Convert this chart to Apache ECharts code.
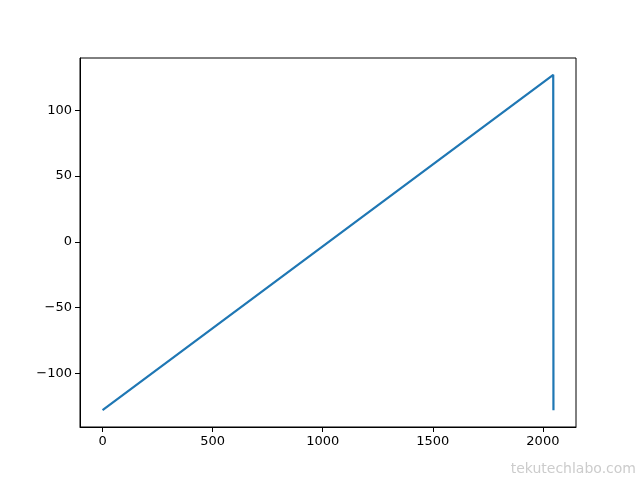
<!DOCTYPE html>
<html>
<head>
<meta charset="utf-8">
<script src="https://cdn.jsdelivr.net/npm/echarts@6/dist/echarts.min.js"></script>
<style>
  html, body { margin: 0; padding: 0; background: #fff; }
  #main { width: 640px; height: 480px; }
</style>
</head>
<body>
<div id="main"></div>
<script>
// sawtooth: rises from -128 to 127, then drops back
var sampleX = [0, 2047, 2048];
var sampleY = [-128, 127, -128];
var xTicks = [0, 500, 1000, 1500, 2000];
var yTicks = [-100, -50, 0, 50, 100];

var points = sampleX.map(function (x, i) { return [x, sampleY[i]]; });

function minusSign(v) {
    return String(v).replace('-', '\u2212');
}

var chart = echarts.init(document.getElementById('main'));
chart.setOption({
    animation: false,
    backgroundColor: '#fff',
    grid: {
        left: 80, right: 64, top: 58, bottom: 53,
        show: true, borderColor: '#000', borderWidth: 1, backgroundColor: 'transparent'
    },
    xAxis: {
        type: 'value',
        min: -102.4, max: 2150.4,
        axisLine: { show: true, onZero: false, lineStyle: { color: '#000', width: 1 } },
        splitLine: { show: false },
        axisTick: { show: true, inside: false, length: 5, lineStyle: { color: '#000' }, customValues: xTicks },
        axisLabel: {
            customValues: xTicks, margin: 8, color: '#000',
            fontFamily: 'DejaVu Sans', fontSize: 13, formatter: minusSign
        }
    },
    yAxis: {
        type: 'value',
        min: -140.75, max: 139.75,
        axisLine: { show: true, onZero: false, lineStyle: { color: '#000', width: 1 } },
        splitLine: { show: false },
        axisTick: { show: true, inside: false, length: 5, lineStyle: { color: '#000' }, customValues: yTicks },
        axisLabel: {
            customValues: yTicks, margin: 8, color: '#000',
            fontFamily: 'DejaVu Sans', fontSize: 13, formatter: minusSign
        }
    },
    graphic: [{
        type: 'text',
        right: 4, bottom: 4,
        style: { text: 'tekutechlabo.com', fill: '#cccccc', fontSize: 14, fontFamily: 'DejaVu Sans' }
    }],
    series: [{
        type: 'line',
        data: points,
        showSymbol: false,
        lineStyle: { color: '#1f77b4', width: 2.2 }
    }]
});
</script>
</body>
</html>
